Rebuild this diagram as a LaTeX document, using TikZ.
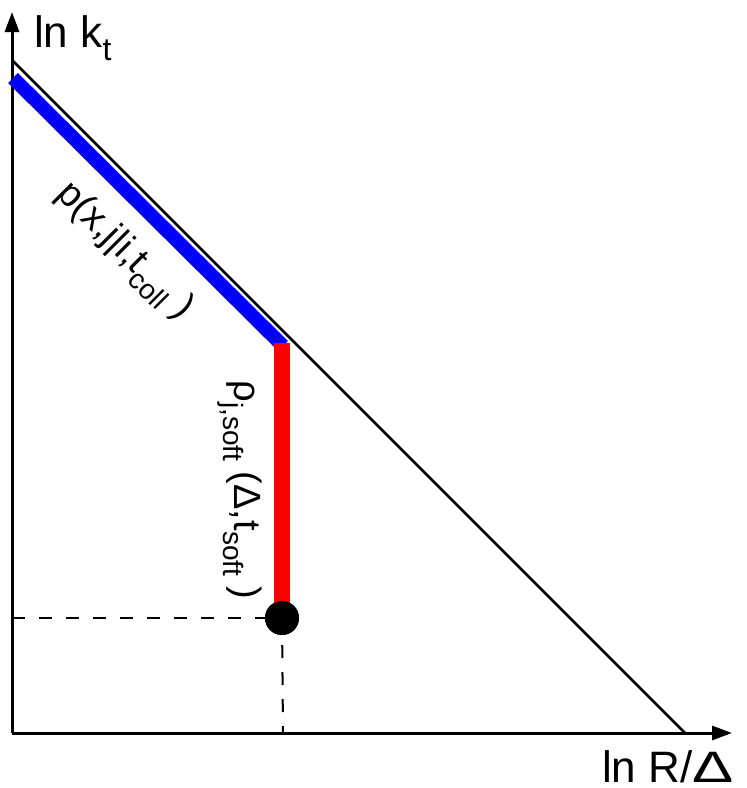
\documentclass[tikz,border=0pt]{standalone}
\usepackage{fontspec}
\setmainfont{Liberation Sans}
\usetikzlibrary{arrows.meta}
\newcommand{\lsub}[1]{\raisebox{-0.28em}{\fontsize{28}{30}\selectfont #1}}
\newcommand{\asub}[1]{\raisebox{-0.3em}{\fontsize{32}{34}\selectfont #1}}
\begin{document}
\begin{tikzpicture}[x=1pt,y=-1pt,
  axis/.style={line width=3pt,-{Triangle[length=20pt,width=14pt]}},
  diag/.style={line width=2.5pt},
  dashline/.style={line width=2pt,dash pattern=on 13pt off 14pt},
  dot/.style={circle,fill=black,minimum size=34pt,inner sep=0pt},
  lbl/.style={font=\fontsize{38}{44}\selectfont,inner sep=0pt},
  axlbl/.style={font=\fontsize{44}{50}\selectfont,inner sep=0pt}]
\useasboundingbox (0,0) rectangle (747,788);
\coordinate (O) at (12,733);
\coordinate (Ytip) at (12,12);
\coordinate (Xtip) at (732,733);
\coordinate (D1) at (12,60);
\coordinate (D2) at (685,733);
\coordinate (B1) at (13,78);
\coordinate (B2) at (283,346);
\coordinate (R1) at (282,343);
\coordinate (Yp) at (12,618);
\coordinate (Xp) at (283,733);
% dashed guides
\node[dot] (dot) at (282,618) {};
\draw[dashline] (Yp) -- (dot.center);
\draw[dashline] (dot.center) -- (Xp);
% axes
\draw[axis] (O) -- (Ytip);
\draw[axis] (O) -- (Xtip);
\draw[diag] (D1) -- (D2);
% thick lines
\draw[blue,line width=14pt] (B1) -- (B2);
\draw[red,line width=16pt] (R1) -- (dot.center);
\node[dot] at (dot.center) {};
% labels
\node[axlbl,anchor=base west] (ylab) at (34,47) {ln k\asub{t}};
\node[axlbl,anchor=base east] (xlab) at (734,782) {ln R/\scalebox{1.4}[1]{Δ}};
\node[lbl,rotate=-45] (blab) at (124,252) {p(x,j|i,t\lsub{coll} )};
\node[lbl,rotate=-90] (rlab) at (240,490) {ρ\lsub{j,soft} (Δ,t\lsub{soft} )};
\end{tikzpicture}
\end{document}
